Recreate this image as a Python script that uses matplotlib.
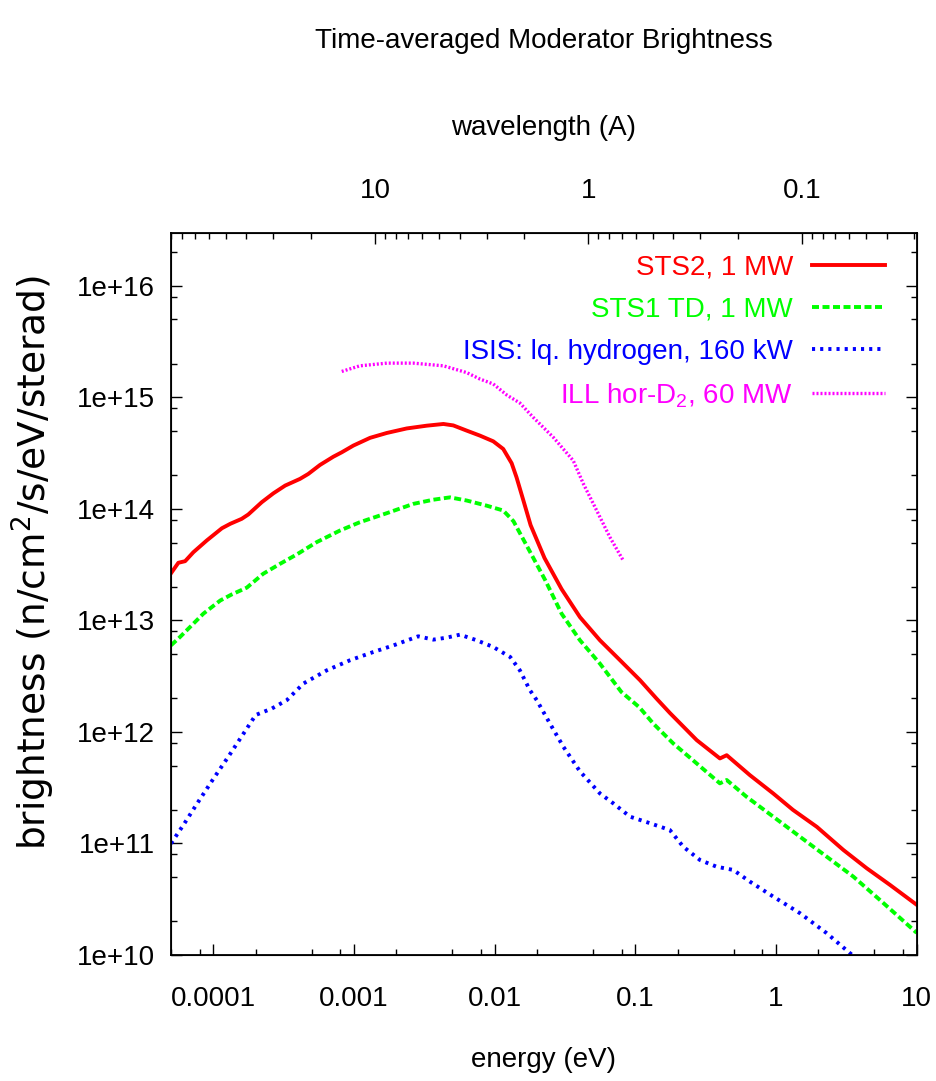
"""Time-averaged moderator brightness vs energy, with a wavelength axis on top."""

import matplotlib

matplotlib.use("Agg")
import matplotlib.pyplot as plt
from matplotlib.ticker import FixedLocator, FuncFormatter, NullFormatter

FONT = "Liberation Sans"
FS = 20

plt.rcParams["font.family"] = [FONT, "DejaVu Sans"]
plt.rcParams["mathtext.fontset"] = "custom"
plt.rcParams["mathtext.rm"] = FONT

# STS2, 1 MW
sts2_energy = [5.0e-5, 5.64e-5, 6.30e-5, 7.21e-5, 8.97e-5, 1.15e-4, 1.32e-4, 1.59e-4, 1.77e-4,
               2.21e-4, 2.67e-4, 3.24e-4, 4.13e-4, 4.73e-4, 5.73e-4, 7.13e-4, 8.18e-4, 9.89e-4,
               1.30e-3, 1.71e-3, 2.37e-3, 3.29e-3, 4.32e-3, 5.08e-3, 6.32e-3, 7.87e-3, 9.77e-3,
               1.15e-2, 1.32e-2, 1.43e-2, 1.60e-2, 1.80e-2, 2.26e-2, 2.99e-2, 4.04e-2, 5.60e-2,
               7.78e-2, 0.108, 0.141, 0.176, 0.273, 0.399, 0.446, 0.652, 0.955, 1.32, 1.95,
               3.01, 4.41, 6.46, 10.0]
sts2_bright = [2.65e13, 3.29e13, 3.40e13, 4.09e13, 5.21e13, 6.71e13, 7.36e13, 8.15e13, 8.91e13,
               1.15e14, 1.38e14, 1.62e14, 1.86e14, 2.06e14, 2.48e14, 2.94e14, 3.22e14, 3.70e14,
               4.34e14, 4.80e14, 5.27e14, 5.58e14, 5.78e14, 5.61e14, 5.04e14, 4.54e14, 4.04e14,
               3.45e14, 2.57e14, 1.92e14, 1.19e14, 7.16e13, 3.63e13, 1.91e13, 1.07e13, 6.64e12,
               4.40e12, 2.91e12, 2.00e12, 1.48e12, 8.45e11, 5.79e11, 6.19e11, 4.10e11, 2.81e11,
               2.00e11, 1.41e11, 8.75e10, 6.00e10, 4.25e10, 2.82e10]

# STS1 TD, 1 MW
sts1_energy = [5.0e-5, 5.79e-5, 7.21e-5, 8.49e-5, 1.12e-4, 1.35e-4, 1.73e-4, 2.26e-4, 2.98e-4,
               3.92e-4, 5.43e-4, 7.96e-4, 1.10e-3, 1.71e-3, 2.64e-3, 3.66e-3, 4.81e-3, 6.32e-3,
               8.77e-3, 1.15e-2, 1.36e-2, 1.74e-2, 2.29e-2, 2.99e-2, 4.04e-2, 5.60e-2, 7.94e-2,
               0.107, 0.134, 0.186, 0.273, 0.399, 0.446, 0.618, 0.955, 1.48, 2.29, 3.54, 5.47, 10.0]
sts1_bright = [5.98e12, 7.10e12, 9.35e12, 1.15e13, 1.51e13, 1.71e13, 1.97e13, 2.62e13, 3.22e13,
               3.91e13, 5.04e13, 6.41e13, 7.60e13, 9.16e13, 1.11e14, 1.21e14, 1.27e14, 1.19e14,
               1.07e14, 9.68e13, 7.76e13, 4.37e13, 2.29e13, 1.15e13, 6.64e12, 4.10e12, 2.29e12,
               1.66e12, 1.19e12, 7.89e11, 5.22e11, 3.46e11, 3.71e11, 2.62e11, 1.74e11, 1.15e11,
               7.62e10, 5.05e10, 3.12e10, 1.58e10]

# ISIS liquid hydrogen, 160 kW
isis_energy = [5.0e-5, 6.2e-5, 7.7e-5, 1.0e-4, 1.3e-4, 1.65e-4, 2.0e-4, 2.6e-4, 3.33e-4,
               4.37e-4, 6.40e-4, 9.38e-4, 1.37e-3, 1.91e-3, 2.86e-3, 3.66e-3, 4.56e-3, 5.66e-3,
               7.45e-3, 9.77e-3, 1.29e-2, 1.51e-2, 1.78e-2, 1.99e-2, 2.47e-2, 3.08e-2, 4.04e-2,
               5.60e-2, 6.97e-2, 9.16e-2, 0.127, 0.176, 0.219, 0.288, 0.378, 0.497, 0.652, 0.955,
               1.48, 2.29, 3.35, 3.98]
isis_bright = [1.0e11, 1.5e11, 2.3e11, 3.8e11, 6.2e11, 9.8e11, 1.42e12, 1.62e12, 1.93e12,
               2.72e12, 3.57e12, 4.40e12, 5.21e12, 5.98e12, 7.21e12, 6.73e12, 7.01e12, 7.46e12,
               6.64e12, 5.78e12, 4.70e12, 3.57e12, 2.37e12, 1.93e12, 1.19e12, 7.36e11, 4.43e11,
               2.81e11, 2.29e11, 1.74e11, 1.52e11, 1.32e11, 9.35e10, 7.11e10, 6.19e10, 5.79e10,
               4.55e10, 3.34e10, 2.37e10, 1.57e10, 1.04e10, 8.7e9]

# ILL horizontal D2 source, 60 MW
ill_energy = [8.18e-4, 1.10e-3, 1.71e-3, 2.64e-3, 4.32e-3, 6.32e-3, 7.87e-3, 9.77e-3, 1.22e-2,
              1.51e-2, 1.88e-2, 2.61e-2, 3.62e-2, 4.27e-2, 5.31e-2, 6.59e-2, 8.20e-2]
ill_bright = [1.71e15, 1.92e15, 2.03e15, 2.03e15, 1.92e15, 1.67e15, 1.46e15, 1.32e15, 1.05e15,
              8.91e14, 6.62e14, 4.39e14, 2.71e14, 1.68e14, 9.68e13, 5.58e13, 3.45e13]

# tick positions
energy_ticks = [1e-4, 1e-3, 1e-2, 1e-1, 1, 10]
energy_minor = [m * d for d in (1e-5, 1e-4, 1e-3, 1e-2, 1e-1, 1) for m in (2, 5, 8)
                if 5e-5 <= m * d <= 10]
bright_ticks = [1e10, 1e11, 1e12, 1e13, 1e14, 1e15, 1e16]
bright_minor = [m * d for d in bright_ticks for m in (2, 5, 8) if m * d <= 3e16]
wavelength_ticks = [10, 1, 0.1]
wavelength_minor = [m * d for d in (0.01, 0.1, 1, 10) for m in range(2, 10)
                    if 0.029 <= m * d <= 90.3]

W, H = 937, 1081
fig = plt.figure(figsize=(W / 100, H / 100), dpi=100)
ax = fig.add_axes([171 / W, 1 - 955 / H, 745.7 / W, 722.3 / H])

ax.plot(sts2_energy, sts2_bright, color="#ff0000", lw=2.8, label="STS2, 1 MW")
ax.plot(sts1_energy, sts1_bright, color="#00ff00", lw=2.8, dashes=(1.8, 0.9),
        label="STS1 TD, 1 MW")
ax.plot(isis_energy, isis_bright, color="#0000ff", lw=2.8, dashes=(0.8, 1.3),
        label="ISIS: lq. hydrogen, 160 kW")
ax.plot(ill_energy, ill_bright, color="#ff00ff", lw=2.4, dashes=(0.6, 0.6),
        label=r"ILL hor-D$_\mathregular{2}$, 60 MW")

ax.set_xscale("log")
ax.set_yscale("log")
ax.set_xlim(5e-5, 10)
ax.set_ylim(1e10, 3e16)

ax.xaxis.set_major_locator(FixedLocator(energy_ticks))
ax.xaxis.set_minor_locator(FixedLocator(energy_minor))
ax.xaxis.set_major_formatter(FuncFormatter(lambda v, p: f"{v:g}"))
ax.xaxis.set_minor_formatter(NullFormatter())
ax.yaxis.set_major_locator(FixedLocator(bright_ticks))
ax.yaxis.set_minor_locator(FixedLocator(bright_minor))
ax.yaxis.set_major_formatter(FuncFormatter(lambda v, p: f"{v:.0e}"))
ax.yaxis.set_minor_formatter(NullFormatter())

for s in ax.spines.values():
    s.set_linewidth(1.3)

ax2 = ax.twiny()
ax2.set_xscale("log")
ax2.set_xlim(90.3, 0.029)
ax2.xaxis.set_major_locator(FixedLocator(wavelength_ticks))
ax2.xaxis.set_minor_locator(FixedLocator(wavelength_minor))
ax2.xaxis.set_major_formatter(FuncFormatter(lambda v, p: f"{v:g}"))
ax2.xaxis.set_minor_formatter(NullFormatter())

ax.tick_params(which="both", direction="in", top=False, right=True, width=1,
               labelsize=FS, colors="black")
ax.tick_params(which="major", length=8)
ax.tick_params(which="minor", length=4.3)
ax.tick_params(axis="x", which="major", pad=22.3)
ax.tick_params(axis="y", which="major", pad=11.5)
ax2.tick_params(which="both", direction="in", top=True, bottom=False, width=1, labelsize=FS)
ax2.tick_params(which="major", length=8, pad=20.5)
ax2.tick_params(which="minor", length=4.3)

fig.text((171 + 916.7) / 2 / W, 1 - 47.5 / H, "Time-averaged Moderator Brightness",
         ha="center", va="baseline", fontsize=FS)
ax2.set_xlabel("wavelength (A)", fontsize=FS, va="baseline")
ax2.xaxis.set_label_coords(0.5, (955 - 135) / 722.3)
ax.set_xlabel("energy (eV)", fontsize=FS, va="baseline")
ax.xaxis.set_label_coords(0.5, (955 - 1067) / 722.3)
ax.set_ylabel(r"brightness (n/cm$^\mathregular{2}$/s/eV/sterad)", fontsize=27,
              family=["DejaVu Sans"], va="center")
ax.yaxis.set_label_coords(-0.185, 0.544)

ax.legend(loc="upper right", bbox_to_anchor=(0.9575, 0.9696), markerfirst=False,
          frameon=False, fontsize=FS, handlelength=2.63, handletextpad=0.68,
          labelspacing=0.58, borderpad=0, borderaxespad=0, labelcolor="linecolor")

fig.savefig("out.png", dpi=100)
